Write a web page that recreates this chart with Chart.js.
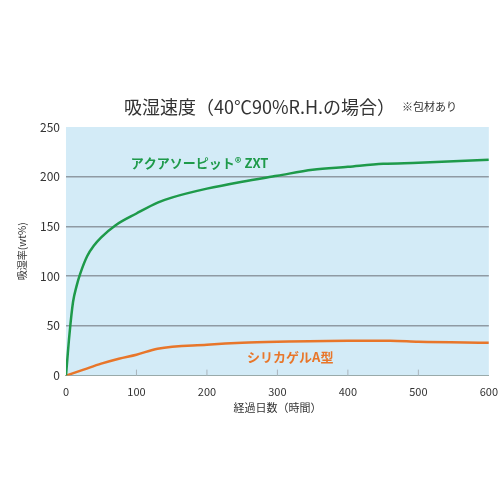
<!DOCTYPE html><html><head><meta charset="utf-8">
<script src="https://cdn.jsdelivr.net/npm/chart.js@4"></script>
<style>body{margin:0;background:#fff}#w{width:500px;height:500px}</style></head><body>
<div id="w"><canvas id="c"></canvas></div>
<script>
const hours = [0,5,10,15,20,30,40,50,70,100,130,150,200,250,300,350,400,450,500,600];
const aquaValues = [0,42,74,90,102,120,131,139,151,163,174,179,188,195,201,207,210,213,214,217];
const silicaHours = [0,25,50,75,100,130,200,250,300,400,460,500,600];
const silicaValues = [0,6,12,17,21,27,31,33,34,35,35,34,33];
const xTicks = [0,100,200,300,400,500,600];
const yTicks = [0,50,100,150,200,250];
const seriesNames = ['アクアソーピット® ZXT','シリカゲルA型'];
const F = '"Noto Sans CJK JP", "Noto Sans", sans-serif';
const bg = {id:'bg',beforeDraw(ch){const a=ch.chartArea,c=ch.ctx;c.save();c.fillStyle='#d3ebf7';c.fillRect(a.left,a.top,a.right-a.left,a.bottom-a.top);c.restore();},
afterDraw(ch){const c=ch.ctx,x=ch.scales.x,y=ch.scales.y;c.save();
c.strokeStyle='#aab4bc';c.lineWidth=1;
xTicks.slice(1,-1).forEach(t=>{const px=x.getPixelForValue(t);c.beginPath();c.moveTo(px,y.bottom);c.lineTo(px,y.bottom-6);c.stroke();});
c.font='bold 13px '+F;c.fillStyle='#1e9a4a';c.fillText(seriesNames[0],x.getPixelForValue(92),y.getPixelForValue(209));
c.fillStyle='#e8762a';c.fillText(seriesNames[1],x.getPixelForValue(257),y.getPixelForValue(14));
c.fillStyle='#333';c.font='18px '+F;c.fillText('吸湿速度（40℃90%R.H.の場合）',124,114);
c.font='11px '+F;c.fillText('※包材あり',402,111);
c.restore();}};
new Chart(document.getElementById('c'),{type:'line',
data:{datasets:[
{label:seriesNames[0],data:hours.map((h,i)=>({x:h,y:aquaValues[i]})),borderColor:'#1e9a4a',borderWidth:2.5,pointRadius:0,cubicInterpolationMode:'monotone'},
{label:seriesNames[1],data:silicaHours.map((h,i)=>({x:h,y:silicaValues[i]})),borderColor:'#e8762a',borderWidth:2.5,pointRadius:0,cubicInterpolationMode:'monotone'}]},
options:{responsive:true,maintainAspectRatio:false,animation:false,
layout:{padding:{top:127,right:6,bottom:86,left:10}},
plugins:{legend:{display:false},tooltip:{enabled:false}},
scales:{
x:{type:'linear',min:0,max:600,afterBuildTicks:s=>{s.ticks=xTicks.map(v=>({value:v}))},grid:{display:false},border:{color:'#9aa'},ticks:{color:'#333',font:{size:11,family:F},maxRotation:0,padding:2},title:{display:true,text:'経過日数（時間）',color:'#333',font:{size:11,family:F},padding:0}},
y:{min:0,max:250,afterBuildTicks:s=>{s.ticks=yTicks.map(v=>({value:v}))},grid:{color:c=>c.tick.value>0&&c.tick.value<250?'#8f9aa3':'rgba(0,0,0,0)',lineWidth:1.5,drawTicks:false},border:{display:false},ticks:{color:'#333',font:{size:12,family:F},padding:6},title:{display:true,text:'吸湿率(wt%)',color:'#333',font:{size:10,family:F},padding:6}}}},
plugins:[bg]});
</script></body></html>
